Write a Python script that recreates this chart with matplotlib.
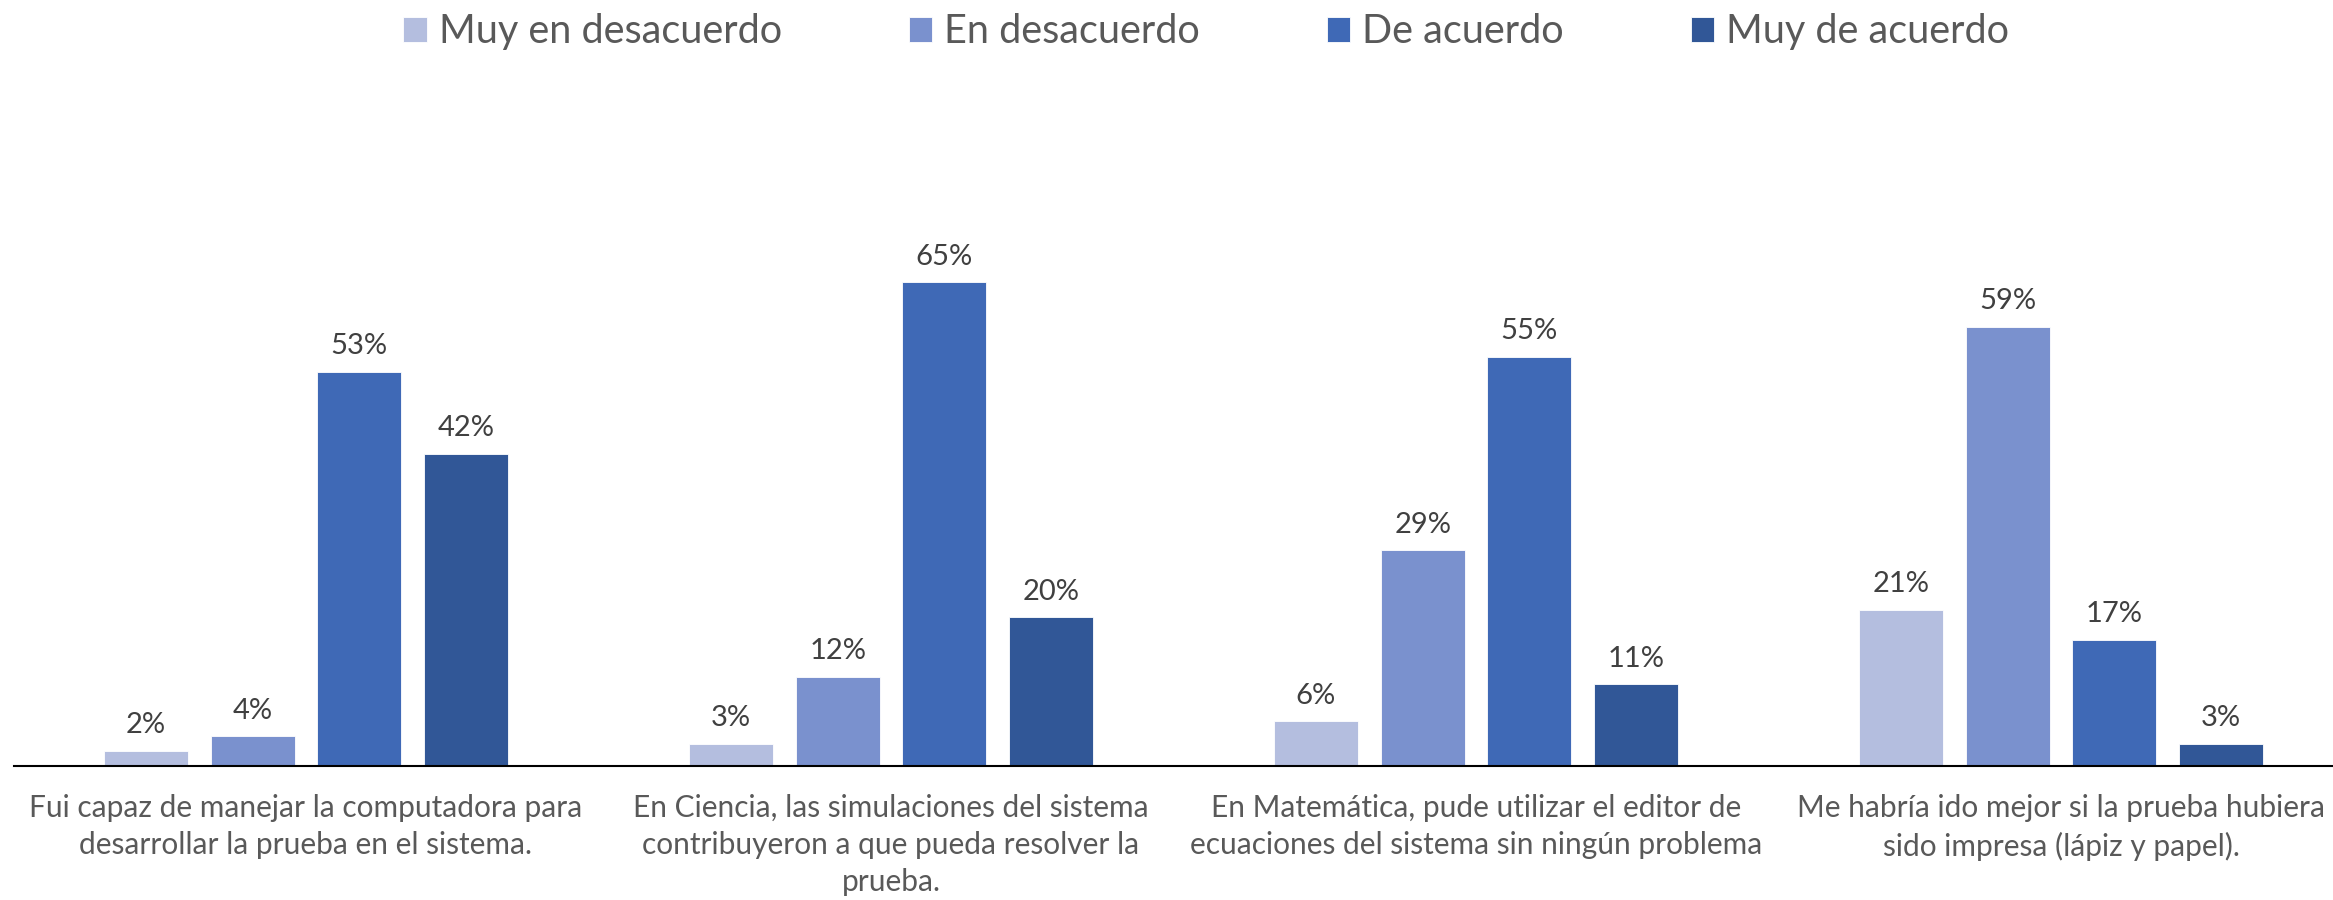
import numpy as np
import matplotlib.pyplot as plt

plt.rcParams['font.family'] = ['Lato', 'DejaVu Sans']

categories = [
    'Fui capaz de manejar la computadora para\ndesarrollar la prueba en el sistema.',
    'En Ciencia, las simulaciones del sistema\ncontribuyeron a que pueda resolver la\nprueba.',
    'En Matemática, pude utilizar el editor de\necuaciones del sistema sin ningún problema',
    'Me habría ido mejor si la prueba hubiera\nsido impresa (lápiz y papel).',
]
series_names = ['Muy en desacuerdo', 'En desacuerdo', 'De acuerdo', 'Muy de acuerdo']
muy_desacuerdo = [0.02, 0.03, 0.06, 0.21]
desacuerdo = [0.04, 0.12, 0.29, 0.59]
de_acuerdo = [0.53, 0.65, 0.55, 0.17]
muy_acuerdo = [0.42, 0.20, 0.11, 0.03]

colors = ['#B4BEDF', '#7A91CE', '#3F69B6', '#315797']
series = [muy_desacuerdo, desacuerdo, de_acuerdo, muy_acuerdo]

fig = plt.figure(figsize=(23.33, 9), dpi=100)
ax = fig.add_axes([13.5 / 2333, 134 / 900, 2340 / 2333, 0.744])

x = np.arange(len(categories))
width = 0.1436
step = 0.1824
for i, (vals, name, c) in enumerate(zip(series, series_names, colors)):
    pos = x + (i - 1.5) * step
    bars = ax.bar(pos, vals, width, color=c, label=name, edgecolor='white', linewidth=0.6)
    for b, v in zip(bars, vals):
        ax.text(b.get_x() + b.get_width() / 2, v + 0.017, f'{round(v * 100)}%',
                ha='center', va='bottom', fontsize=21, color='#404040')

ax.set_xlim(-0.5, 3.5)
ax.set_ylim(0, 0.9)
ax.set_yticks([])
ax.set_xticks(x)
ax.set_xticklabels(categories, fontsize=21.5, color='#595959', linespacing=1.4)
ax.tick_params(axis='x', length=0, pad=20)
for s in ['top', 'right', 'left']:
    ax.spines[s].set_visible(False)
ax.spines['bottom'].set_linewidth(1.5)
ax.spines['bottom'].set_color('black')

fig.legend(loc='upper center', bbox_to_anchor=(0.517, 1.025), ncol=4, frameon=False,
           fontsize=28.5, labelcolor='#595959', handlelength=0.6, handleheight=0.6,
           handletextpad=0.3, columnspacing=3.2)

fig.savefig('out.png', dpi=100)
